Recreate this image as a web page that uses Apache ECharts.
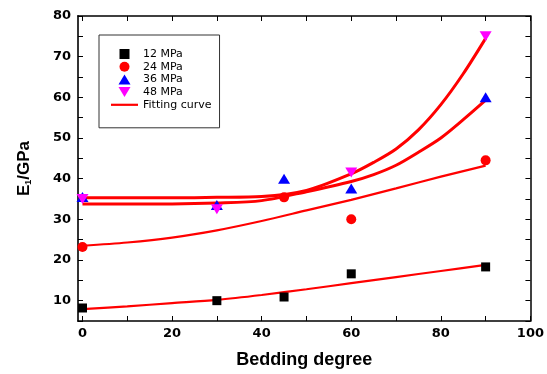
<!DOCTYPE html>
<html>
<head>
<meta charset="utf-8">
<script src="https://cdn.jsdelivr.net/npm/echarts@6/dist/echarts.min.js"></script>
<style>
html,body{margin:0;padding:0;background:#fff;}
#chart{width:547px;height:374px;}
</style>
</head>
<body>
<div id="chart"></div>
<script>
// ---- data ----
var degrees = [0, 30, 45, 60, 90];
var e12 = [8.2, 10.0, 10.9, 16.6, 18.3];
var e24 = [23.2, null, 35.4, 30.0, 44.5];
var e36 = [35.5, 33.5, 40.0, 37.6, 60.0];
var e48 = [35.0, 32.5, null, 41.5, 75.0];

var fitX = [0, 10, 20, 30, 40, 50, 60, 70, 80, 90];
var fit12 = [7.9, 8.6, 9.4, 10.2, 11.4, 12.8, 14.3, 15.8, 17.3, 18.8];
var fit24 = [23.5, 24.3, 25.5, 27.3, 29.6, 32.2, 34.8, 37.6, 40.5, 43.2];
var fitXHi = [0, 10, 20, 30, 40, 50, 60, 65, 70, 75, 80, 85, 90];
var fit36 = [33.8, 33.8, 33.8, 34.0, 34.6, 36.8, 39.3, 41.0, 43.3, 46.5, 50.0, 54.5, 59.3];
var fit48 = [35.3, 35.3, 35.3, 35.4, 35.6, 37.1, 41.2, 44.0, 47.3, 52.0, 58.2, 65.8, 74.5];

var xTickLabels = [0, 20, 40, 60, 80, 100];
var xTicks = [0, 10, 20, 30, 40, 50, 60, 70, 80, 90, 100];
var yTickLabels = [10, 20, 30, 40, 50, 60, 70, 80];
var yTicks = [5, 10, 15, 20, 25, 30, 35, 40, 45, 50, 55, 60, 65, 70, 75, 80];

function pairs(xs, ys) {
  var out = [];
  for (var i = 0; i < xs.length; i++) {
    if (ys[i] !== null) out.push([xs[i], ys[i]]);
  }
  return out;
}

var chart = echarts.init(document.getElementById('chart'), null, {renderer: 'canvas'});

var axisLineStyle = {color: '#000', width: 1.5};
var tickFont = {fontFamily: 'DejaVu Sans', fontWeight: 'bold', fontSize: 13, color: '#000'};

var scatterBase = {type: 'scatter', z: 5};
var lineBase = {
  type: 'line', name: 'Fitting curve', showSymbol: false, symbol: 'none',
  smooth: 0.3, z: 3, color: '#ff0000'
};

var option = {
  animation: false,
  backgroundColor: '#fff',
  grid: {left: 78, right: 10, top: 16, bottom: 50},
  legend: {
    orient: 'vertical',
    left: 99, top: 35,
    padding: [13.5, 8, 17.5, 12],
    borderColor: '#333', borderWidth: 1,
    itemWidth: 27, itemHeight: 10, itemGap: 1.7,
    symbolKeepAspect: true,
    textStyle: {fontFamily: 'DejaVu Sans', fontSize: 11, color: '#000', lineHeight: 11},
    data: [
      {name: '12 MPa', icon: 'path://M0,0L8,0L8,8L0,8Z'},
      {name: '24 MPa', icon: 'path://M5,0A5,5,0,1,1,5,10A5,5,0,1,1,5,0Z'},
      {name: '36 MPa', icon: 'path://M6,0L12,10L0,10Z'},
      {name: '48 MPa', icon: 'path://M0,0L12,0L6,10Z'},
      {name: 'Fitting curve', icon: 'path://M0,0L27,0L27,2.2L0,2.2Z'}
    ]
  },
  xAxis: [{
    type: 'value', min: -1, max: 100, position: 'bottom',
    name: 'Bedding degree', nameLocation: 'middle', nameGap: 30,
    nameTextStyle: {fontFamily: 'Liberation Sans', fontWeight: 'bold', fontSize: 18, color: '#000'},
    axisLine: {show: true, onZero: false, lineStyle: axisLineStyle},
    axisTick: {show: true, inside: true, length: 5, customValues: xTicks, lineStyle: {color: '#000', width: 1}},
    axisLabel: Object.assign({margin: 6, customValues: xTickLabels, showMaxLabel: true}, tickFont),
    splitLine: {show: false}
  }, {
    type: 'value', min: -1, max: 100, position: 'top',
    axisLine: {show: true, onZero: false, lineStyle: axisLineStyle},
    axisTick: {show: true, inside: true, length: 5, customValues: xTicks, lineStyle: {color: '#000', width: 1}},
    axisLabel: {show: false},
    splitLine: {show: false}
  }],
  yAxis: [{
    type: 'value', min: 5, max: 80, position: 'left',
    name: '{a|E}{b|1}{a|/GPa}', nameLocation: 'middle', nameGap: 45, nameRotate: 90,
    nameTextStyle: {
      rich: {
        a: {fontFamily: 'Liberation Sans', fontWeight: 'bold', fontSize: 17, color: '#000', lineHeight: 17, verticalAlign: 'middle'},
        b: {fontFamily: 'Liberation Sans', fontWeight: 'bold', fontSize: 9, color: '#000', lineHeight: 9, padding: [10, 0, 0, 0], verticalAlign: 'bottom'}
      }
    },
    axisLine: {show: true, onZero: false, lineStyle: {color: '#333', width: 2}},
    axisTick: {show: true, inside: true, length: 5, customValues: yTicks, lineStyle: {color: '#000', width: 1}},
    axisLabel: Object.assign({margin: 7, customValues: yTickLabels}, tickFont),
    splitLine: {show: false}
  }, {
    type: 'value', min: 5, max: 80, position: 'right',
    axisLine: {show: true, onZero: false, lineStyle: axisLineStyle},
    axisTick: {show: true, inside: true, length: 5, customValues: yTicks, lineStyle: {color: '#000', width: 1}},
    axisLabel: {show: false},
    splitLine: {show: false}
  }],
  series: [
    Object.assign({}, lineBase, {data: pairs(fitX, fit12), lineStyle: {width: 2.2, color: '#ff0000'}}),
    Object.assign({}, lineBase, {data: pairs(fitX, fit24), lineStyle: {width: 2.2, color: '#ff0000'}}),
    Object.assign({}, lineBase, {data: pairs(fitXHi, fit36), lineStyle: {width: 3, color: '#ff0000'}}),
    Object.assign({}, lineBase, {data: pairs(fitXHi, fit48), lineStyle: {width: 3, color: '#ff0000'}}),
    Object.assign({}, scatterBase, {name: '12 MPa', symbol: 'rect', symbolSize: 9, itemStyle: {color: '#000', opacity: 1}, data: pairs(degrees, e12)}),
    Object.assign({}, scatterBase, {name: '24 MPa', symbol: 'circle', symbolSize: 10, itemStyle: {color: '#ff0000', opacity: 1}, data: pairs(degrees, e24)}),
    Object.assign({}, scatterBase, {name: '36 MPa', symbol: 'triangle', symbolSize: [12, 10], itemStyle: {color: '#0000ff', opacity: 1}, data: pairs(degrees, e36)}),
    Object.assign({}, scatterBase, {name: '48 MPa', symbol: 'triangle', symbolRotate: 180, symbolSize: [12, 10], itemStyle: {color: '#ff00ff', opacity: 1}, data: pairs(degrees, e48)})
  ]
};
chart.setOption(option);
</script>
</body>
</html>
